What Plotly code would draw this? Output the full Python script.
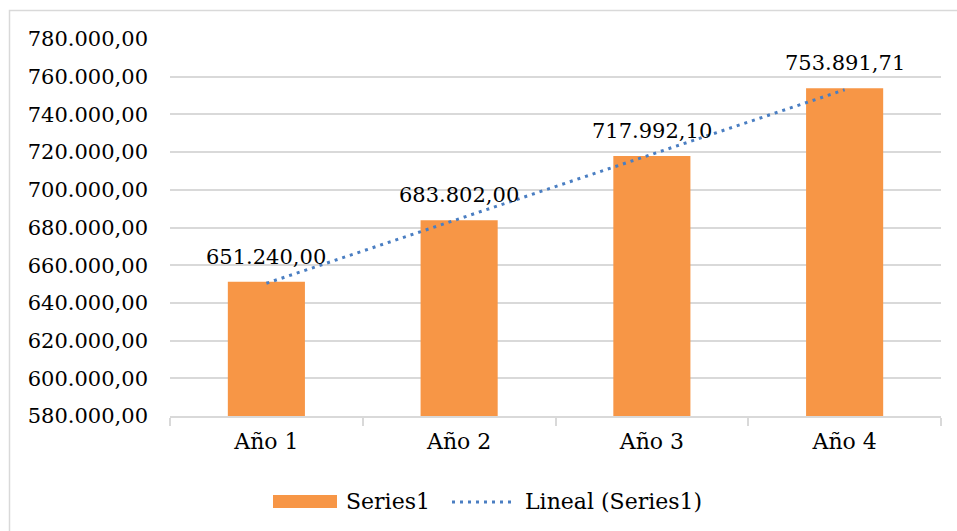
import numpy as np
import plotly.graph_objects as go

# Data
categories = ["Año 1", "Año 2", "Año 3", "Año 4"]
values = [651240.00, 683802.00, 717992.10, 753891.71]
value_labels = ["651.240,00", "683.802,00", "717.992,10", "753.891,71"]
tick_values = [580000, 600000, 620000, 640000, 660000, 680000, 700000,
               720000, 740000, 760000, 780000]
tick_labels = ["580.000,00", "600.000,00", "620.000,00", "640.000,00",
               "660.000,00", "680.000,00", "700.000,00", "720.000,00",
               "740.000,00", "760.000,00", "780.000,00"]
series_name = "Series1"
trend_name = "Lineal (Series1)"

# Linear trend fitted over the category index
idx = np.arange(1, len(values) + 1)
slope, intercept = np.polyfit(idx, values, 1)
trend = slope * idx + intercept

BAR_COLOR = "#F79646"
TREND_COLOR = "#4A7EC2"
GRID_COLOR = "#D9D9D9"
FONT = "DejaVu Serif"

W, H = 957, 531
ML, MR, MT, MB = 170, 16, 39, 115
PW, PH = W - ML - MR, H - MT - MB


def px_x(px):
    return (px - ML) / PW


def px_y(py):
    return (H - MB - py) / PH


fig = go.Figure()
fig.add_trace(go.Bar(
    x=categories, y=values, name=series_name,
    marker=dict(color=BAR_COLOR, line=dict(width=0)),
    width=0.4, showlegend=False,
))
fig.add_trace(go.Scatter(
    x=categories, y=trend, name=trend_name, mode="lines",
    line=dict(color=TREND_COLOR, width=3, dash="3px,5px"),
    showlegend=False,
))

annotations = []
for cat, val, lab in zip(categories, values, value_labels):
    annotations.append(dict(
        x=cat, y=val, xref="x", yref="y", text=lab, showarrow=False,
        yanchor="bottom", yshift=11,
        font=dict(family=FONT, size=21, color="#000000"),
    ))

# Legend row drawn by hand: wide swatch, dotted sample, labels
legend_font = dict(family=FONT, size=22, color="#000000")
annotations.append(dict(
    x=px_x(344), y=px_y(502), xref="paper", yref="paper", text=series_name,
    showarrow=False, xanchor="left", yanchor="middle", font=legend_font,
))
annotations.append(dict(
    x=px_x(523), y=px_y(502), xref="paper", yref="paper", text=trend_name,
    showarrow=False, xanchor="left", yanchor="middle", font=legend_font,
))

shapes = [
    # chart frame (runs past the right and bottom edges of the page)
    dict(type="rect", xref="paper", yref="paper",
         x0=px_x(9.5), x1=px_x(W + 20), y0=px_y(H + 20), y1=px_y(10.5),
         line=dict(color=GRID_COLOR, width=1.5), fillcolor="rgba(0,0,0,0)",
         layer="below"),
    dict(type="rect", xref="paper", yref="paper",
         x0=px_x(273), x1=px_x(337), y0=px_y(508), y1=px_y(495),
         line=dict(width=0), fillcolor=BAR_COLOR),
    dict(type="line", xref="paper", yref="paper",
         x0=px_x(452), x1=px_x(514), y0=px_y(502), y1=px_y(502),
         line=dict(color=TREND_COLOR, width=3, dash="3px,5px")),
]

fig.update_layout(
    width=W, height=H,
    margin=dict(l=ML, r=MR, t=MT, b=MB),
    paper_bgcolor="#FFFFFF", plot_bgcolor="#FFFFFF",
    font=dict(family=FONT, color="#000000"),
    bargap=0.6,
    showlegend=False,
    annotations=annotations,
    shapes=shapes,
)
fig.update_xaxes(
    type="category", showgrid=False, zeroline=False,
    showline=True, linecolor=GRID_COLOR, linewidth=1.5,
    ticks="outside", tickson="boundaries", ticklen=8,
    tickcolor=GRID_COLOR, tickwidth=1.5,
    ticklabelstandoff=5,
    tickfont=dict(family=FONT, size=22, color="#000000"),
)
fig.update_yaxes(
    range=[580000, 780000], tickvals=tick_values, ticktext=tick_labels,
    showgrid=True, gridcolor=GRID_COLOR, gridwidth=1.5,
    zeroline=False, showline=False, ticks="",
    ticklabelstandoff=21,
    tickfont=dict(family=FONT, size=21, color="#000000"),
)

fig.write_html("out.html")
